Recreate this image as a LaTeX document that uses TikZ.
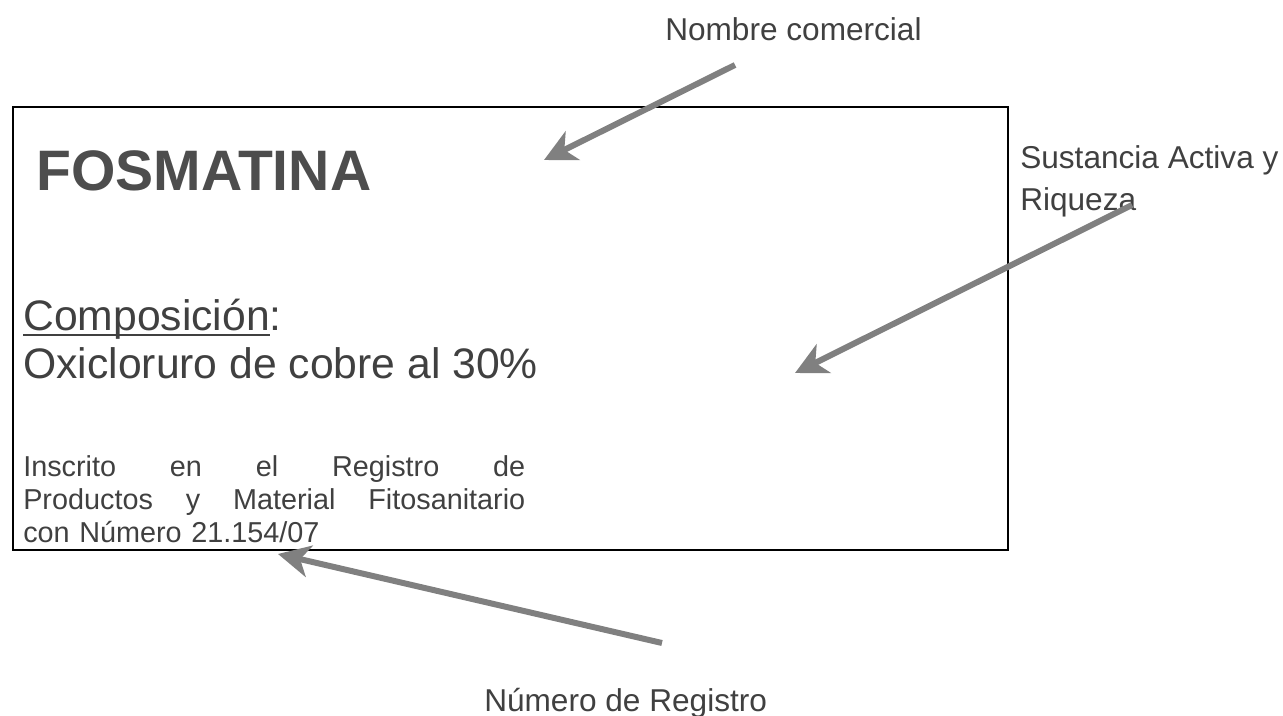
\documentclass[tikz,border=0pt]{standalone}
\usepackage{fontspec}
\setmainfont{Liberation Sans}
\usetikzlibrary{arrows.meta}
\definecolor{txtgray}{HTML}{404040}
\definecolor{titlegray}{HTML}{4D4D4D}
\definecolor{arrgray}{HTML}{808080}
\newcommand{\subrayado}[1]{\sbox0{#1}\rlap{\rule[-4pt]{\wd0}{2pt}}\box0}
\tikzset{
    callout/.style={inner sep=0pt, anchor=base west, text=txtgray, font=\fontsize{23.7}{31.5}\selectfont},
    pointer/.style={draw=arrgray, line width=4.5pt, -{Stealth[length=24pt, width=24pt, inset=7pt]}}
}
\begin{document}
\begin{tikzpicture}[x=0.75pt, y=-0.75pt]
    \useasboundingbox (0,0) rectangle (1283,716);
    \draw[line width=1.5pt] (13,107) rectangle (1008,550);

    \node[inner sep=0pt, anchor=base west, text=titlegray, font=\fontsize{42.8}{48}\selectfont\bfseries] (marca) at (36,191) {FOSMATINA};
    \node[callout, font=\fontsize{32}{40}\selectfont] (comp) at (23,331) {\subrayado{Composición}:};
    \node[callout, font=\fontsize{32}{40}\selectfont] (oxi) at (23,379) {Oxicloruro de cobre al 30\%};
    \node[callout, font=\fontsize{21.6}{24}\selectfont, anchor=north west, text width=376.5pt] (inscrito) at (23,455)
        {\makebox[376.5pt][l]{Inscrito\hfill en\hfill el\hfill Registro\hfill de}\\[0.8pt]
         \makebox[376.5pt][l]{Productos\hfill y\hfill Material\hfill Fitosanitario}\\[0.8pt]
         con Número 21.154/07};

    \node[callout] (nombre) at (665,41) {Nombre comercial};
    \node[callout, align=left] (sustancia) at (1020,211) {Sustancia Activa y\\Riqueza};
    \node[callout] (numero) at (484,711) {Número de Registro};

    \coordinate (c1) at (735,65);
    \coordinate (t1) at (544,160);
    \coordinate (c2) at (1132,205);
    \coordinate (t2) at (795,373);
    \coordinate (c3) at (662,643);
    \coordinate (t3) at (278,554);

    \draw[pointer] (c1) -- (t1);
    \draw[pointer] (c2) -- (t2);
    \draw[pointer] (c3) -- (t3);
\end{tikzpicture}
\end{document}
